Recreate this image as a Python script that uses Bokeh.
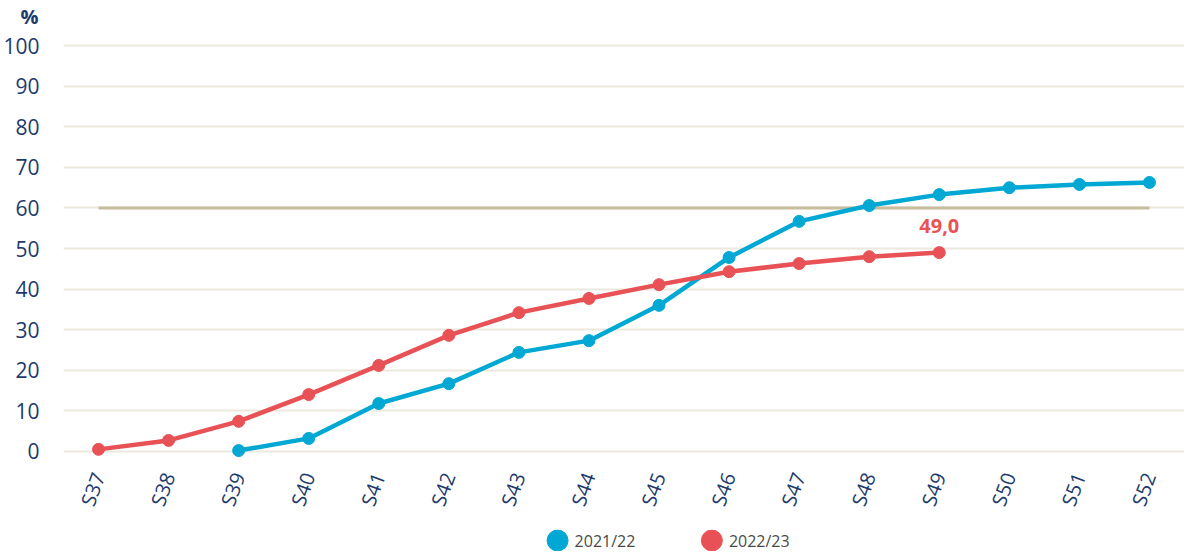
from bokeh.plotting import figure
from bokeh.layouts import column
from bokeh.models import FactorRange, Range1d, FixedTicker, ColumnDataSource, Title
from bokeh.core.properties import value
from bokeh.embed import file_html
from bokeh.resources import INLINE

weeks = ["S37", "S38", "S39", "S40", "S41", "S42", "S43", "S44",
         "S45", "S46", "S47", "S48", "S49", "S50", "S51", "S52"]

weeks_2122 = ["S39", "S40", "S41", "S42", "S43", "S44", "S45", "S46",
              "S47", "S48", "S49", "S50", "S51", "S52"]
vals_2122 = [0.2, 3.2, 11.8, 16.7, 24.4, 27.3, 36.0, 47.8, 56.7, 60.6, 63.3, 65.0, 65.8, 66.3]

weeks_2223 = ["S37", "S38", "S39", "S40", "S41", "S42", "S43", "S44",
              "S45", "S46", "S47", "S48", "S49"]
vals_2223 = [0.5, 2.7, 7.4, 14.0, 21.2, 28.6, 34.2, 37.7, 41.1, 44.3, 46.3, 48.0, 49.0]

series_names = ["2021/22", "2022/23"]
target = 60
y_ticks = [0, 10, 20, 30, 40, 50, 60, 70, 80, 90, 100]

BLUE = "#00a8d3"
RED = "#e85256"
NAVY = "#1d3a6b"
FONT = "Open Sans"

p = figure(frame_width=1121, frame_height=430, output_backend="svg", toolbar_location=None,
           x_range=FactorRange(*weeks, range_padding=0),
           y_range=Range1d(-2, 104),
           min_border_left=57, min_border_right=0, min_border_top=25, min_border_bottom=70)
p.outline_line_color = None
p.background_fill_color = "white"
p.border_fill_color = "white"

p.xgrid.grid_line_color = None
p.ygrid.grid_line_color = "#ece8dc"
p.ygrid.grid_line_width = 2
p.yaxis.ticker = FixedTicker(ticks=y_ticks)

for ax in (p.xaxis[0], p.yaxis[0]):
    ax.axis_line_color = None
    ax.major_tick_line_color = None
    ax.minor_tick_line_color = None
    ax.major_label_text_color = NAVY
    ax.major_label_text_font = FONT
    ax.major_label_text_font_size = "21px"

p.yaxis.major_label_standoff = 18
p.xaxis.major_label_orientation = 1.22
p.xaxis.major_label_standoff = 8
p.xaxis.major_label_text_font_size = "20px"

# "%" unit label as title
p.title = Title(text="%", align="left", offset=-43, text_color=NAVY, text_font=FONT,
                text_font_size="20px", text_font_style="bold", standoff=0)

# target line
p.line(x=[weeks[0], weeks[-1]], y=[target, target], line_color="#c8bc9c", line_width=3)

src1 = ColumnDataSource(dict(x=weeks_2122, y=vals_2122))
src2 = ColumnDataSource(dict(x=weeks_2223, y=vals_2223))

p.line("x", "y", source=src1, line_color=BLUE, line_width=4.5)
p.scatter("x", "y", source=src1, size=12, fill_color=BLUE, line_color=BLUE)
p.line("x", "y", source=src2, line_color=RED, line_width=4.5)
p.scatter("x", "y", source=src2, size=12, fill_color=RED, line_color=RED)

# last value label
p.text(x=[weeks_2223[-1]], y=[vals_2223[-1]], text=["49,0"], y_offset=-20,
       text_align="center", text_baseline="bottom", text_color=RED,
       text_font=value(FONT), text_font_size="20px", text_font_style="bold")

# legend strip below (pixel-based layout)
LEG_H = 22
lf = figure(width=1178, height=LEG_H, output_backend="svg", toolbar_location=None,
            x_range=Range1d(0, 1178), y_range=Range1d(0, LEG_H),
            min_border=0, x_axis_type=None, y_axis_type=None)
lf.outline_line_color = None
lf.xgrid.grid_line_color = None
lf.ygrid.grid_line_color = None
leg_x = [522, 685]
leg_y = 11
leg_colors = [BLUE, RED]
lf.scatter(x=leg_x, y=[leg_y, leg_y], size=21, fill_color=leg_colors, line_color=leg_colors)
lf.text(x=[lx + 18 for lx in leg_x], y=[leg_y, leg_y], text=series_names,
        text_align="left", text_baseline="middle", text_color="#4a4a4a",
        text_font=value(FONT), text_font_size="16px")

layout = column(p, lf, spacing=0)
open("out.html", "w").write(file_html(layout, INLINE))
